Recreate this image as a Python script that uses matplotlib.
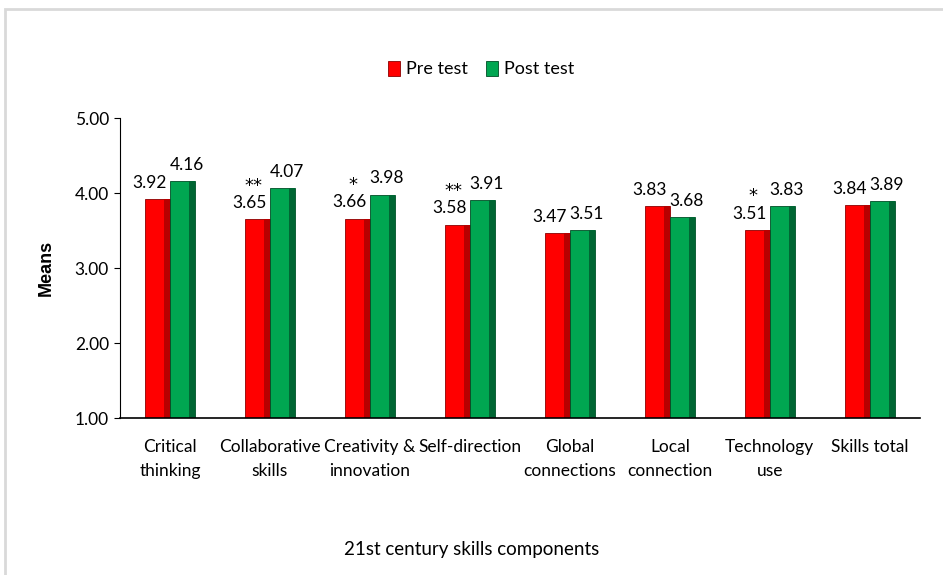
import numpy as np
import matplotlib.pyplot as plt
from matplotlib.patches import Rectangle

categories = ['Critical\nthinking', 'Collaborative\nskills', 'Creativity &\ninnovation',
              'Self-direction', 'Global\nconnections', 'Local\nconnection',
              'Technology\nuse', 'Skills total']
pre_test = [3.92, 3.65, 3.66, 3.58, 3.47, 3.83, 3.51, 3.84]
post_test = [4.16, 4.07, 3.98, 3.91, 3.51, 3.68, 3.83, 3.89]
stars = ['', '**', '*', '**', '', '', '*', '']

plt.rcParams['font.family'] = ['Lato', 'DejaVu Sans']

fig = plt.figure(figsize=(9.43, 5.75), dpi=100)
fig.patches.append(Rectangle((0.005, -0.01), 1.0, 0.995, transform=fig.transFigure,
                             fill=False, edgecolor='#d9d9d9', linewidth=2))
ax = fig.add_axes([0.1273, 0.273, 0.848, 0.5217])

x = np.arange(len(categories))
w = 0.25
base = 1.0
pre_h = np.array(pre_test) - base
post_h = np.array(post_test) - base

red = ax.bar(x - w / 2, pre_h, w, bottom=base, color='#ff0000',
             edgecolor='#8c0000', linewidth=0.6, label='Pre test')
green = ax.bar(x + w / 2, post_h, w, bottom=base, color='#00a651',
               edgecolor='#004d25', linewidth=0.6, label='Post test')
# darker right side to hint at the bevel
ax.bar(x - w / 2 + w * 0.38, pre_h, w * 0.24, bottom=base, color='#b80000', linewidth=0)
ax.bar(x + w / 2 + w * 0.38, post_h, w * 0.24, bottom=base, color='#006633', linewidth=0)

for i in range(len(categories)):
    ax.text(x[i] - w / 2 - 0.08, pre_test[i] + 0.11, f'{pre_test[i]:.2f}',
            ha='center', va='bottom', fontsize=12.5)
    ax.text(x[i] + w / 2 + 0.04, post_test[i] + 0.11, f'{post_test[i]:.2f}',
            ha='center', va='bottom', fontsize=12.5)
    if stars[i]:
        ax.text(x[i] - w / 2 - 0.04, pre_test[i] + 0.33, stars[i],
                ha='center', va='bottom', fontsize=13, family='DejaVu Sans')

ax.set_xlim(-0.5, len(categories) - 0.5)
ax.set_ylim(1.0, 5.0)
ax.set_yticks([1, 2, 3, 4, 5])
ax.set_yticklabels([f'{v:.2f}' for v in [1, 2, 3, 4, 5]], fontsize=12.5)
ax.set_xticks(x)
ax.set_xticklabels(categories, fontsize=12.5, linespacing=1.6)
ax.tick_params(axis='x', length=0, pad=15)
ax.tick_params(axis='y', length=4, direction='out', pad=4)
for s in ['top', 'right']:
    ax.spines[s].set_visible(False)
ax.spines['left'].set_color('black')
ax.spines['bottom'].set_color('black')
ax.spines['bottom'].set_linewidth(1.2)

ax.set_ylabel('Means', fontsize=13, fontweight='bold', family='Liberation Sans', labelpad=14)
fig.text(0.5, 0.035, '21st century skills components', ha='center', fontsize=13.5)

fig.legend(handles=[red, green], loc='center', bbox_to_anchor=(0.51, 0.88), ncol=2,
           frameon=False, fontsize=13, handlelength=0.7, handleheight=0.9,
           handletextpad=0.3, columnspacing=1.0)

fig.savefig('out.png', dpi=100)
